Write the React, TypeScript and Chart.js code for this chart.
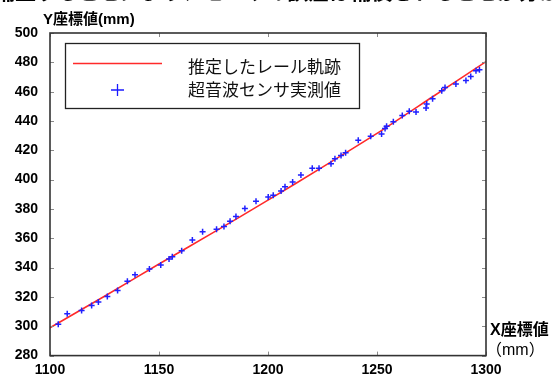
import { useEffect, useRef } from "react";
import { Chart, registerables } from "chart.js";

Chart.register(...registerables);

const xTicks = [1100, 1150, 1200, 1250, 1300];
const yTicks = [280, 300, 320, 340, 360, 380, 400, 420, 440, 460, 480, 500];

const railX = [1100, 1125, 1150, 1175, 1200, 1225, 1250, 1275, 1300];
const railY = [299, 320.5, 342.5, 364, 386, 408.5, 431.5, 456, 480.5];

const sensorX = [
  1103.8, 1107.9, 1114.5, 1119.1, 1122.2, 1126.3, 1131.0, 1135.5, 1139.0, 1145.6,
  1150.8, 1154.6, 1156.1, 1160.4, 1165.3, 1170.0, 1176.4, 1179.8, 1182.6, 1185.3,
  1189.4, 1194.5, 1200.1, 1202.4, 1206.0, 1207.8, 1211.3, 1215.1, 1220.3, 1223.4,
  1228.9, 1230.7, 1233.5, 1235.6, 1241.4, 1247.1, 1252.1, 1253.7, 1254.4, 1257.5,
  1261.6, 1264.8, 1267.9, 1272.5, 1272.8, 1275.5, 1279.7, 1281.2, 1286.2, 1290.8,
  1293.0, 1295.4, 1297.0,
];
const sensorY = [
  301.3, 308.5, 310.8, 314.2, 316.5, 320.3, 324.4, 330.7, 335.2, 339.1,
  341.8, 345.9, 347.4, 351.5, 358.8, 364.4, 366.2, 368.1, 371.7, 374.8,
  380.3, 385.2, 388.2, 389.3, 392.2, 395.2, 398.4, 403.1, 407.7, 407.7,
  410.8, 414.2, 416.5, 418.3, 426.9, 429.6, 431.2, 434.8, 436.4, 439.4,
  443.8, 446.6, 446.2, 448.9, 451.6, 455.2, 460.6, 462.9, 465.2, 467.6,
  470.3, 474.2, 474.9,
];

const legendLabels = ["推定したレール軌跡", "超音波センサ実測値"];
const yTitle = "Y座標値(mm)";
const xTitleLines = ["X座標値", "（mm）"];
const topText = "補正することにより、センサの誤差は補償されることが分かる";

const LATIN = '"Liberation Sans", Arial, "Noto Sans CJK JP", sans-serif';
const CJK = '"Noto Sans CJK JP", "Liberation Sans", sans-serif';

const decorPlugin = {
  id: "decor",
  afterDraw(chart: any) {
    const ctx = chart.ctx as CanvasRenderingContext2D;
    const { left, right, top, bottom } = chart.chartArea;
    const xs = chart.scales.x;
    const ys = chart.scales.y;
    ctx.save();

    // inward tick marks
    ctx.strokeStyle = "#8a8a8a";
    ctx.lineWidth = 1;
    ctx.beginPath();
    for (const v of xTicks) {
      const px = Math.round(xs.getPixelForValue(v)) + 0.5;
      ctx.moveTo(px, bottom);
      ctx.lineTo(px, bottom - 4);
      ctx.moveTo(px, top);
      ctx.lineTo(px, top + 4);
    }
    for (const v of yTicks) {
      const py = Math.round(ys.getPixelForValue(v)) + 0.5;
      ctx.moveTo(left, py);
      ctx.lineTo(left + 4, py);
      ctx.moveTo(right, py);
      ctx.lineTo(right - 4, py);
    }
    ctx.stroke();

    // frame
    ctx.strokeStyle = "#333";
    ctx.lineWidth = 1.6;
    ctx.strokeRect(left, top, right - left, bottom - top);

    // legend box
    ctx.fillStyle = "#fff";
    ctx.fillRect(65, 43, 294, 65);
    ctx.strokeStyle = "#222";
    ctx.lineWidth = 1.3;
    ctx.strokeRect(65.5, 43.5, 294, 65);
    ctx.strokeStyle = "#ff2a2a";
    ctx.lineWidth = 1.3;
    ctx.beginPath();
    ctx.moveTo(73, 63.5);
    ctx.lineTo(162, 63.5);
    ctx.stroke();
    ctx.strokeStyle = "#1a1aff";
    ctx.lineWidth = 1.3;
    ctx.beginPath();
    ctx.moveTo(111, 90);
    ctx.lineTo(124, 90);
    ctx.moveTo(117.5, 84);
    ctx.lineTo(117.5, 96);
    ctx.stroke();
    ctx.fillStyle = "#111";
    ctx.font = `17px ${CJK}`;
    ctx.textBaseline = "middle";
    ctx.textAlign = "left";
    ctx.fillText(legendLabels[0], 188, 67);
    ctx.fillText(legendLabels[1], 188, 89.5);

    // axis titles
    ctx.fillStyle = "#000";
    ctx.font = `bold 15px ${LATIN}`;
    ctx.fillText(yTitle, 43, 20);
    ctx.font = `bold 16px ${LATIN}`;
    ctx.fillText(xTitleLines[0], 490, 331);
    ctx.font = `16px ${LATIN}`;
    ctx.fillText(xTitleLines[1], 486, 351);

    // cropped text at top
    ctx.font = `bold 21px ${CJK}`;
    ctx.textBaseline = "alphabetic";
    ctx.fillText(topText, -6, -1);

    ctx.restore();
  },
};

export default function App() {
  const ref = useRef<HTMLCanvasElement | null>(null);

  useEffect(() => {
    if (!ref.current) return;
    const tickFont = { family: LATIN, size: 14, weight: "bold" as const };
    const chart = new Chart(ref.current, {
      type: "scatter",
      data: {
        datasets: [
          {
            label: legendLabels[0],
            data: railX.map((x, i) => ({ x, y: railY[i] })),
            showLine: true,
            borderColor: "#ff2a2a",
            borderWidth: 1.6,
            pointRadius: 0,
            tension: 0.2,
            order: 2,
          },
          {
            label: legendLabels[1],
            data: sensorX.map((x, i) => ({ x, y: sensorY[i] })),
            showLine: false,
            pointStyle: "cross",
            pointRadius: 3,
            borderColor: "#2020ff",
            backgroundColor: "#2020ff",
            borderWidth: 1.5,
            order: 1,
          },
        ],
      },
      options: {
        animation: false,
        responsive: false,
        devicePixelRatio: 1,
        layout: { padding: { top: 33, right: 71, bottom: 0, left: 0 } },
        plugins: {
          legend: { display: false },
          tooltip: { enabled: false },
        },
        scales: {
          x: {
            type: "linear",
            min: 1100,
            max: 1300,
            afterBuildTicks: (s: any) => {
              s.ticks = xTicks.map((v) => ({ value: v }));
            },
            grid: { display: false, drawTicks: false },
            border: { display: false },
            ticks: {
              font: tickFont,
              color: "#000",
              padding: 6,
              maxRotation: 0,
              autoSkip: false,
              callback: (v: any) => String(v),
            },
            afterFit: (s: any) => {
              s.height = 19;
            },
          },
          y: {
            type: "linear",
            min: 280,
            max: 500,
            afterBuildTicks: (s: any) => {
              s.ticks = yTicks.map((v) => ({ value: v }));
            },
            grid: { display: false, drawTicks: false },
            border: { display: false },
            ticks: {
              font: tickFont,
              color: "#000",
              padding: 12,
              autoSkip: false,
              callback: (v: any) => String(v),
            },
            afterFit: (s: any) => {
              s.width = 50;
            },
          },
        },
      },
      plugins: [decorPlugin],
    });
    return () => chart.destroy();
  }, []);

  return (
    <div style={{ position: "fixed", left: 0, top: 0, width: 557, height: 376, background: "#fff" }}>
      <canvas ref={ref} width={557} height={376} style={{ width: 557, height: 376, display: "block" }} />
    </div>
  );
}
